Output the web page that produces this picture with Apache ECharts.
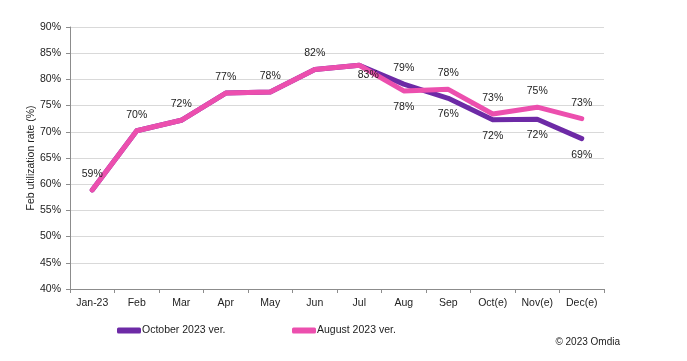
<!DOCTYPE html>
<html>
<head>
<meta charset="utf-8">
<script src="https://cdn.jsdelivr.net/npm/echarts@6/dist/echarts.min.js"></script>
<style>
html,body{margin:0;padding:0;background:#fff;}
#chart{width:687px;height:361px;}
</style>
</head>
<body>
<div id="chart"></div>
<script>
var categories = ['Jan-23','Feb','Mar','Apr','May','Jun','Jul','Aug','Sep','Oct(e)','Nov(e)','Dec(e)'];
var octoberVer = [58.9, 70.2, 72.2, 77.4, 77.6, 81.9, 82.7, 79.1, 76.4, 72.3, 72.4, 68.7];
var augustVer  = [58.9, 70.2, 72.2, 77.4, 77.6, 81.9, 82.7, 77.8, 78.1, 73.4, 74.7, 72.5];
var yTicks = [40,45,50,55,60,65,70,75,80,85,90];

var octLabelPos = [null,null,null,null,null,null,null,'top','bottom','bottom','bottom','bottom'];
var augLabelPos = ['top','top','top','top','top','top','bottom','bottom','top','top','top','top'];

var font = 'Liberation Sans';
function buildData(vals, pos){
  return vals.map(function(v,i){
    var p = pos[i];
    if(!p) return {value:v, label:{show:false}};
    var lab = {show:true, position:p, distance:10};
    if(i===6){ lab.distance = 4; lab.offset = [9,0]; }
    return {value:v, label:lab};
  });
}
var chart = echarts.init(document.getElementById('chart'));
chart.setOption({
  animation:false,
  backgroundColor:'#fff',
  grid:{left:70,right:83,top:27,bottom:72},
  xAxis:{
    type:'category', data:categories, boundaryGap:true,
    axisLine:{lineStyle:{color:'#8c8c8c'}},
    axisTick:{show:true, interval:0, length:4, lineStyle:{color:'#8c8c8c'}},
    axisLabel:{color:'#222', fontFamily:font, fontSize:10.5, margin:9, interval:0}
  },
  yAxis:{
    type:'value', min:yTicks[0], max:yTicks[yTicks.length-1], interval:5,
    name:'Feb utilization rate (%)', nameLocation:'middle', nameGap:33, nameMoveOverlap:false,
    nameTextStyle:{color:'#222', fontFamily:font, fontSize:10.5},
    axisLine:{show:true, lineStyle:{color:'#8c8c8c'}},
    axisTick:{show:true, length:4, lineStyle:{color:'#8c8c8c'}},
    axisLabel:{color:'#222', fontFamily:font, fontSize:10.5, margin:9, formatter:'{value}%'},
    splitLine:{lineStyle:{color:'#d9d9d9'}}
  },
  legend:[
    {data:['October 2023 ver.'], left:112, top:320, icon:'roundRect', itemWidth:24, itemHeight:6, itemGap:0,
     textStyle:{color:'#222', fontFamily:font, fontSize:10.5, padding:[0,0,0,-4]}},
    {data:['August 2023 ver.'], left:287, top:320, icon:'roundRect', itemWidth:24, itemHeight:6, itemGap:0,
     textStyle:{color:'#222', fontFamily:font, fontSize:10.5, padding:[0,0,0,-4]}}
  ],
  graphic:[{type:'text', right:67, top:337, style:{text:'\u00a9 2023 Omdia', fill:'#222', font:'10px "Liberation Sans"'}}],
  series:[
    {name:'October 2023 ver.', type:'line', data:buildData(octoberVer, octLabelPos),
     symbol:'circle', symbolSize:1, showSymbol:true,
     lineStyle:{color:'#6d2aa6', width:5, cap:'round', join:'round'},
     itemStyle:{color:'#6d2aa6'},
     label:{color:'#222', fontFamily:font, fontSize:10.5, formatter:function(p){return Math.round(p.value)+'%';}},
     z:2},
    {name:'August 2023 ver.', type:'line', data:buildData(augustVer, augLabelPos),
     symbol:'circle', symbolSize:1, showSymbol:true,
     lineStyle:{color:'#ec4fae', width:5, cap:'round', join:'round'},
     itemStyle:{color:'#ec4fae'},
     label:{color:'#222', fontFamily:font, fontSize:10.5, formatter:function(p){return Math.round(p.value)+'%';}},
     z:3}
  ]
});
</script>
</body>
</html>
